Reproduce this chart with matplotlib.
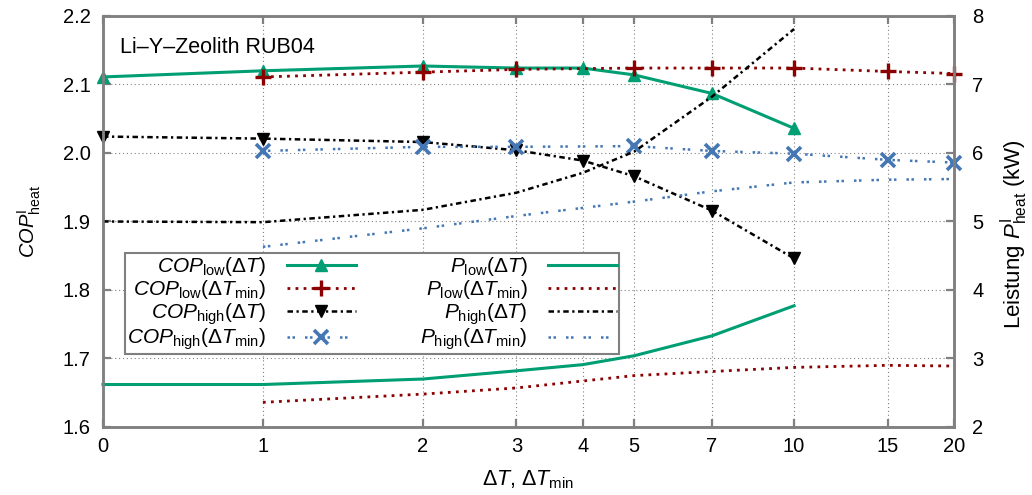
import numpy as np
import matplotlib
matplotlib.use("Agg")
import matplotlib.pyplot as plt

plt.rcParams['font.family'] = ['Liberation Sans', 'DejaVu Sans']
plt.rcParams['mathtext.fontset'] = 'custom'
plt.rcParams['mathtext.rm'] = 'Liberation Sans'
plt.rcParams['mathtext.it'] = 'Liberation Sans:italic'
plt.rcParams['mathtext.bf'] = 'Liberation Sans:bold'
plt.rcParams['font.size'] = 14.5

# temperature differences (K)
dT = [0, 1, 2, 3, 4, 5, 7, 10]
dT_min = [1, 2, 3, 5, 7, 10, 15, 20]
x_ticks = [0, 1, 2, 3, 4, 5, 7, 10, 15, 20]

# COP (left axis)
cop_low_dT = [2.111, 2.120, 2.127, 2.124, 2.124, 2.114, 2.087, 2.036]
cop_low_dTmin = [2.111, 2.118, 2.122, 2.124, 2.124, 2.124, 2.119, 2.116]
cop_high_dT = [2.024, 2.021, 2.016, 2.004, 1.989, 1.966, 1.916, 1.846]
cop_high_dTmin = [2.003, 2.009, 2.009, 2.010, 2.003, 1.999, 1.990, 1.986]

# heating power in kW (right axis)
p_low_dT = [2.62, 2.62, 2.70, 2.82, 2.91, 3.04, 3.33, 3.77]
p_low_dTmin = [2.36, 2.48, 2.57, 2.75, 2.81, 2.87, 2.90, 2.89]
p_high_dT = [5.00, 4.99, 5.17, 5.42, 5.71, 6.02, 6.82, 7.81]
p_high_dTmin = [4.63, 4.90, 5.08, 5.29, 5.44, 5.57, 5.61, 5.62]

TEAL = '#009e73'
RED = '#8b0000'
BLACK = '#000000'
BLUE = '#4477b4'
GRAY = '#808080'


def fwd(x):
    x = np.asarray(x, dtype=float)
    return np.where(x < 2, x, 2 + np.log2(np.maximum(x, 2) / 2))


def inv(y):
    y = np.asarray(y, dtype=float)
    return np.where(y < 2, y, 2 * 2 ** (np.maximum(y, 2) - 2))


fig = plt.figure(figsize=(10.32, 4.95), dpi=100)
ax = fig.add_axes([0.0998, 0.1374, 0.8246, 0.8303])
ax2 = ax.twinx()

ax.set_xscale('function', functions=(fwd, inv))
ax.set_xlim(0, 20)
ax.set_xticks(x_ticks)
ax.set_xticklabels([str(t) for t in x_ticks])
ax.set_ylim(1.6, 2.2)
ax.set_yticks(np.round(np.arange(1.6, 2.21, 0.1), 1))
ax.set_yticklabels([f'{v:.1f}' for v in np.arange(1.6, 2.21, 0.1)])
ax2.set_ylim(2, 8)
ax2.set_yticks(range(2, 9))

ax.grid(True, color=GRAY, linestyle=(0, (1, 2.5)), linewidth=0.8)
ax.set_axisbelow(True)

sty_red = dict(color=RED, lw=2.0, dashes=(1, 1.9), clip_on=False)
sty_black = dict(color=BLACK, lw=1.8, dashes=(2.2, 1.4, 0.9, 1.4), clip_on=False)
sty_blue = dict(color=BLUE, lw=1.8, dashes=(1, 1, 1, 4), clip_on=False)

h1, = ax.plot(dT, cop_low_dT, color=TEAL, lw=2.2, marker='^', ms=9, clip_on=False,
              label=r'$COP_{\mathrm{low}}(\Delta T)$')
h2, = ax.plot(dT_min, cop_low_dTmin, marker='+', ms=12, mew=2.4,
              label=r'$COP_{\mathrm{low}}(\Delta T_{\mathrm{min}})$', **sty_red)
h3, = ax.plot(dT, cop_high_dT, marker='v', ms=9,
              label=r'$COP_{\mathrm{high}}(\Delta T)$', **sty_black)
h4, = ax.plot(dT_min, cop_high_dTmin, marker='x', ms=10, mew=2.6,
              label=r'$COP_{\mathrm{high}}(\Delta T_{\mathrm{min}})$', **sty_blue)

h5, = ax2.plot(dT, p_low_dT, color=TEAL, lw=2.2, clip_on=False,
               label=r'$P_{\mathrm{low}}(\Delta T)$')
h6, = ax2.plot(dT_min, p_low_dTmin,
               label=r'$P_{\mathrm{low}}(\Delta T_{\mathrm{min}})$', **sty_red)
h7, = ax2.plot(dT, p_high_dT,
               label=r'$P_{\mathrm{high}}(\Delta T)$', **sty_black)
h8, = ax2.plot(dT_min, p_high_dTmin,
               label=r'$P_{\mathrm{high}}(\Delta T_{\mathrm{min}})$', **sty_blue)

for a in (ax, ax2):
    for s in a.spines.values():
        s.set_color(GRAY)
        s.set_linewidth(1.8)

ax.tick_params(axis='x', direction='in', top=True, bottom=True, length=6,
               width=1.6, color=GRAY, pad=7)
ax.tick_params(axis='y', direction='in', left=True, right=False, length=6,
               width=1.6, color=GRAY, pad=9)
ax2.tick_params(axis='y', direction='in', right=True, length=6,
                width=1.6, color=GRAY, pad=13)

ax.set_xlabel(r'$\Delta T$, $\Delta T_{\mathrm{min}}$', fontsize=15.5)
ax.xaxis.set_label_coords(0.5, -0.1)
ax.set_ylabel(r'$COP^{\mathrm{I}}_{\mathrm{heat}}$', fontsize=14.5)
ax.yaxis.set_label_coords(-0.07, 0.5)
ax2.set_ylabel(r'Leistung $P^{\mathrm{I}}_{\mathrm{heat}}$ (kW)', fontsize=16)
ax2.yaxis.set_label_coords(1.052, 0.47)

ax.text(0.02, 0.91, 'Li–Y–Zeolith RUB04', transform=ax.transAxes,
        ha='left', va='baseline', fontsize=15.5)

leg = ax2.legend(handles=[h1, h2, h3, h4, h5, h6, h7, h8], ncol=2,
                 markerfirst=False, loc='upper left', fontsize=15,
                 bbox_to_anchor=(0.026, 0.423), fancybox=False,
                 framealpha=1, edgecolor=GRAY, handlelength=3.3,
                 handletextpad=1.0, columnspacing=3.1, labelspacing=0.0,
                 borderpad=0.1, borderaxespad=0)
leg.get_frame().set_linewidth(1.5)

fig.savefig('out.png', dpi=100)
